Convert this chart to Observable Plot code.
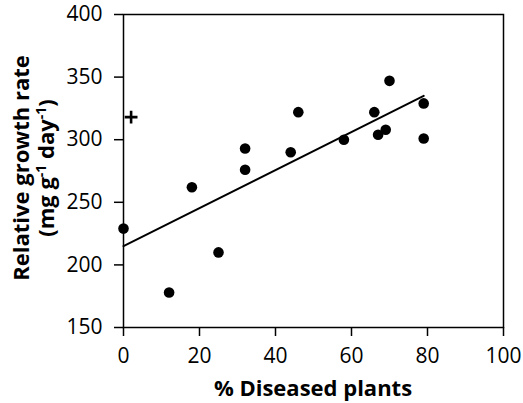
<!DOCTYPE html>
<html>
<head>
<meta charset="utf-8">
<script src="https://cdn.jsdelivr.net/npm/d3@7"></script>
<script src="https://cdn.jsdelivr.net/npm/@observablehq/plot@0.6"></script>
<style>
  html, body { margin: 0; padding: 0; background: white; }
  svg { display: block; }
</style>
</head>
<body>
<div id="chart"></div>
<script>
// Data
const diseased = [0, 12, 18, 25, 32, 32, 44, 46, 58, 66, 67, 69, 70, 79, 79];
const growth   = [229, 178, 262, 210, 293, 276, 290, 322, 300, 322, 304, 308, 347, 329, 301];
const outlierX = [2];
const outlierY = [318];
const fitX = [0, 79];
const fitY = [215, 335];
const xTicks = [0, 20, 40, 60, 80, 100];
const yTicks = [150, 200, 250, 300, 350, 400];
const xTitle = "% Diseased plants";
const yTitle1 = "Relative growth rate";

const points = diseased.map((x, i) => ({x, y: growth[i]}));
const outliers = outlierX.map((x, i) => ({x, y: outlierY[i]}));
const fit = fitX.map((x, i) => ({x, y: fitY[i]}));

const W = 523, H = 403;
const font = "'Open Sans', 'Noto Sans', sans-serif";

const chart = Plot.plot({
  width: W,
  height: H,
  marginLeft: 123,
  marginRight: 20,
  marginTop: 14,
  marginBottom: 76,
  x: {domain: [0, 100]},
  y: {domain: [150, 400]},
  style: {fontFamily: font, fontSize: "21px", color: "black", background: "white", overflow: "visible"},
  marks: [
    Plot.frame({stroke: "black", strokeWidth: 1.5}),
    Plot.axisX({ticks: xTicks, tickSize: 9, tickPadding: 12, label: null, strokeWidth: 1.5, fontSize: 21}),
    Plot.axisY({ticks: yTicks, tickSize: 9, tickPadding: 12, label: null, strokeWidth: 1.5, fontSize: 21}),
    Plot.line(fit, {x: "x", y: "y", stroke: "black", strokeWidth: 2}),
    Plot.dot(points, {x: "x", y: "y", r: 5.3, fill: "black", stroke: "none"}),
    Plot.dot(outliers, {x: "x", y: "y", symbol: "plus", r: 4.2, stroke: "black", strokeWidth: 2.6})
  ]
});

document.getElementById("chart").appendChild(chart);

// Axis titles
const svg = d3.select(chart);
svg.append("text")
  .attr("x", 313)
  .attr("y", 396)
  .attr("text-anchor", "middle")
  .style("font-family", font)
  .style("font-size", "22px")
  .style("font-weight", "bold")
  .attr("fill", "black")
  .text(xTitle);

svg.append("text")
  .attr("transform", "translate(29,168) rotate(-90)")
  .attr("text-anchor", "middle")
  .style("font-family", font)
  .style("font-size", "22px")
  .style("font-weight", "bold")
  .attr("fill", "black")
  .text(yTitle1);

const t2 = svg.append("text")
  .attr("transform", "translate(54,168) rotate(-90)")
  .attr("text-anchor", "middle")
  .style("font-family", font)
  .style("font-size", "22px")
  .style("font-weight", "bold")
  .attr("fill", "black");
t2.append("tspan").text("(mg g");
t2.append("tspan").attr("dy", -8).style("font-size", "14px").text("-1");
t2.append("tspan").attr("dy", 8).text(" day");
t2.append("tspan").attr("dy", -8).style("font-size", "14px").text("-1");
t2.append("tspan").attr("dy", 8).text(")");
</script>
</body>
</html>
